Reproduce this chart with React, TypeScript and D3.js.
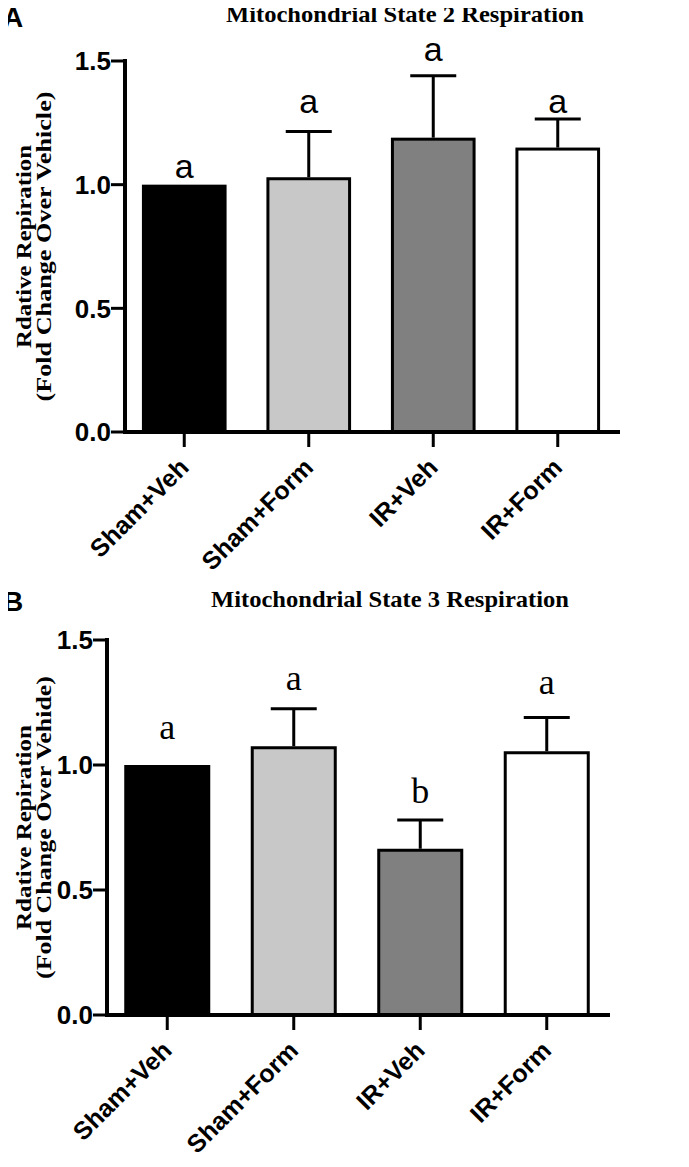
import React from "react";
import * as d3 from "d3";

const categories = ["Sham+Veh", "Sham+Form", "IR+Veh", "IR+Form"];
const barFills = ["#000000", "#c8c8c8", "#808080", "#ffffff"];
const yTicks = [0, 0.5, 1.0, 1.5];

const state2Means = [1.0, 1.03, 1.19, 1.15];
const state2Upper = [1.0, 1.215, 1.44, 1.265];
const state2Letters = ["a", "a", "a", "a"];
const state2LetterAt = [1.025, 1.29, 1.5, 1.29];

const state3Means = [1.0, 1.075, 0.665, 1.055];
const state3Upper = [1.0, 1.225, 0.78, 1.19];
const state3Letters = ["a", "a", "b", "a"];
const state3LetterAt = [1.105, 1.3, 0.85, 1.285];

const SANS = "'Liberation Sans', Arial, sans-serif";
const SERIF = "'Liberation Serif', 'Times New Roman', serif";

type PanelProps = {
  tag: string;
  title: string;
  means: number[];
  upper: number[];
  letters: string[];
  letterAt: number[];
  letterFont: string;
  letterSize: number;
  left: number;
  right: number;
  y0: number;
  yTop: number;
  titleX: number;
  titleY: number;
  tagY: number;
  yTitle1: string;
  yTitle2: string;
  yLen1: number;
  yLen2: number;
};

function Panel(p: PanelProps) {
  const x = d3
    .scaleBand<string>()
    .domain(categories)
    .range([p.left - 3, p.right])
    .paddingInner(0.32)
    .paddingOuter(0.16);
  const y = d3.scaleLinear().domain([0, 1.5]).range([p.y0, p.yTop]);
  const bw = x.bandwidth();
  const cx = (c: string) => (x(c) as number) + bw / 2;
  const midY = (p.y0 + p.yTop) / 2;
  return (
    <g>
      <text x={3} y={p.tagY} fontFamily={SANS} fontWeight="bold" fontSize={28}>
        {p.tag}
      </text>
      <text
        x={p.titleX}
        y={p.titleY}
        textAnchor="middle"
        fontFamily={SERIF}
        fontWeight="bold"
        fontSize={23}
        textLength={358}
        lengthAdjust="spacingAndGlyphs"
      >
        {p.title}
      </text>
      <g transform={`translate(31,${midY}) rotate(-90)`}>
        <text
          textAnchor="middle"
          fontFamily={SERIF}
          fontWeight="bold"
          fontSize={21}
          textLength={p.yLen1}
          lengthAdjust="spacingAndGlyphs"
        >
          {p.yTitle1}
        </text>
      </g>
      <g transform={`translate(51,${midY}) rotate(-90)`}>
        <text
          textAnchor="middle"
          fontFamily={SERIF}
          fontWeight="bold"
          fontSize={21}
          textLength={p.yLen2}
          lengthAdjust="spacingAndGlyphs"
        >
          {p.yTitle2}
        </text>
      </g>
      {categories.map((c, i) => (
        <g key={c}>
          {p.upper[i] > p.means[i] && (
            <g stroke="#000" strokeWidth={3}>
              <line x1={cx(c)} x2={cx(c)} y1={y(p.means[i])} y2={y(p.upper[i])} />
              <line x1={cx(c) - 23} x2={cx(c) + 23} y1={y(p.upper[i])} y2={y(p.upper[i])} />
            </g>
          )}
          <rect
            x={(x(c) as number) + 1.5}
            y={y(p.means[i]) + 1.5}
            width={bw - 3}
            height={y(0) - y(p.means[i]) - 1.5}
            fill={barFills[i]}
            stroke="#000"
            strokeWidth={3}
          />
          <text
            x={cx(c)}
            y={y(p.letterAt[i])}
            textAnchor="middle"
            fontFamily={p.letterFont}
            fontSize={p.letterSize}
          >
            {p.letters[i]}
          </text>
        </g>
      ))}
      <line x1={p.left} x2={p.left} y1={y(1.5) - 2} y2={y(0) + 2} stroke="#000" strokeWidth={4} />
      {yTicks.map((t) => (
        <g key={t}>
          <line x1={p.left - 14} x2={p.left} y1={y(t)} y2={y(t)} stroke="#000" strokeWidth={3} />
          <text
            x={p.left - 14}
            y={y(t)}
            dy="0.36em"
            textAnchor="end"
            fontFamily={SANS}
            fontWeight="bold"
            fontSize={26}
          >
            {t.toFixed(1)}
          </text>
        </g>
      ))}
      <line x1={p.left - 2} x2={p.right} y1={y(0)} y2={y(0)} stroke="#000" strokeWidth={4} />
      {categories.map((c) => (
        <g key={"t" + c}>
          <line x1={cx(c)} x2={cx(c)} y1={y(0)} y2={y(0) + 15} stroke="#000" strokeWidth={3} />
          <text
            transform={`translate(${cx(c) + 6},${y(0) + 37}) rotate(-45)`}
            textAnchor="end"
            fontFamily={SANS}
            fontWeight="bold"
            fontSize={25}
          >
            {c}
          </text>
        </g>
      ))}
    </g>
  );
}

export default function App() {
  return (
    <svg width={689} height={1167} style={{ display: "block", margin: "-8px" }}>
      <rect width={689} height={1167} fill="#fff" />
      <Panel
        tag="A"
        title="Mitochondrial State 2 Respiration"
        means={state2Means}
        upper={state2Upper}
        letters={state2Letters}
        letterAt={state2LetterAt}
        letterFont={SANS}
        letterSize={34}
        left={125}
        right={620}
        y0={432}
        yTop={61}
        titleX={405}
        titleY={22}
        tagY={27}
        yTitle1="Rdative Repiration"
        yTitle2="(Fold Change Over Vehicle)"
        yLen1={203}
        yLen2={310}
      />
      <Panel
        tag="B"
        title="Mitochondrial State 3 Respiration"
        means={state3Means}
        upper={state3Upper}
        letters={state3Letters}
        letterAt={state3LetterAt}
        letterFont={SERIF}
        letterSize={36}
        left={107}
        right={610}
        y0={1015}
        yTop={640}
        titleX={390}
        titleY={607}
        tagY={611}
        yTitle1="Rdative Repiration"
        yTitle2="(Fold Change Over Vehide)"
        yLen1={205}
        yLen2={303}
      />
    </svg>
  );
}
